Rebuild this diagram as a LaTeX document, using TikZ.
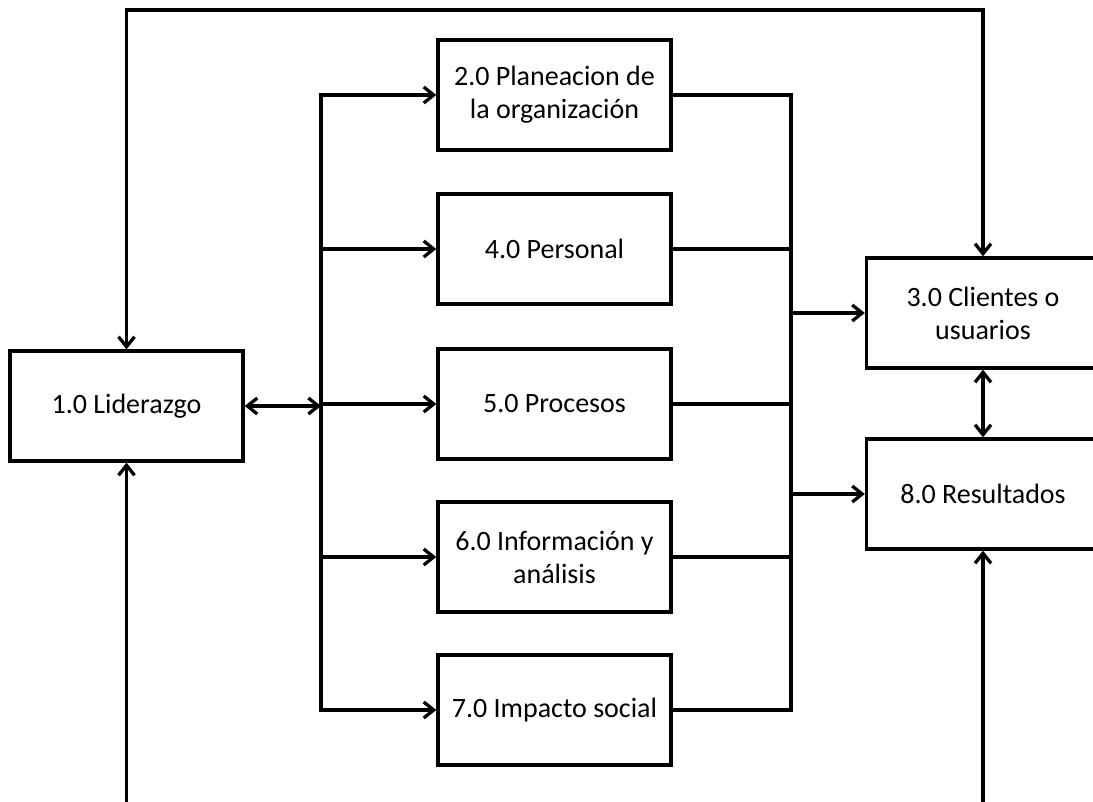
\documentclass[tikz,border=0pt]{standalone}
\usepackage{fontspec}
\setmainfont{Carlito}
\usetikzlibrary{arrows.meta}
\begin{document}
\begin{tikzpicture}[x=1pt,y=-1pt,
  line width=3.3pt,
  box/.style={draw, rectangle, minimum width=233pt, minimum height=110pt,
    align=center, inner sep=0pt, font=\fontsize{28}{33}\selectfont},
  >={Straight Barb[length=10pt,width=16pt]}]
\useasboundingbox (0,0) rectangle (1093,801);

% boxes
\node[box] (lid)  at (126.5,406) {1.0 Liderazgo};
\node[box] (plan) at (554.5,95)  {2.0 Planeacion de\\la organización};
\node[box] (pers) at (554.5,249) {4.0 Personal};
\node[box] (proc) at (554.5,404) {5.0 Procesos};
\node[box] (info) at (554.5,557) {6.0 Información y\\análisis};
\node[box] (imp)  at (554.5,710) {7.0 Impacto social};
\node[box] (cli)  at (983,313)   {3.0 Clientes o\\usuarios};
\node[box] (res)  at (983,494)   {8.0 Resultados};

% bus lines and routing points
\coordinate (lbT) at (321,95);
\coordinate (lbB) at (321,710);
\coordinate (rbT) at (791,95);
\coordinate (rbB) at (791,710);
\coordinate (top) at (0,10);
\coordinate (bot) at (0,806);

\draw[line cap=rect] (lbT) -- (lbB);
\draw[line cap=rect] (rbT) -- (rbB);

% leadership to the distribution bus
\draw[<->] (lid.east) -- (lid.east -| lbT);

% bus to the process boxes
\foreach \n in {plan,pers,proc,info,imp}{
  \draw[->] (\n.west -| lbT) -- (\n.west);
  \draw (\n.east) -- (\n.east -| rbT);
}

% collecting bus to clients and results
\draw[->] (cli.west -| rbT) -- (cli.west);
\draw[->] (res.west -| rbT) -- (res.west);

% clients and results
\draw[<->] (cli.south) -- (res.north);

% top feedback loop
\draw[<->] (lid.north) -- (lid.north |- top) -- (cli.north |- top) -- (cli.north);

% incoming lines from below
\draw[->] (lid.south |- bot) -- (lid.south);
\draw[->] (res.south |- bot) -- (res.south);
\end{tikzpicture}
\end{document}
